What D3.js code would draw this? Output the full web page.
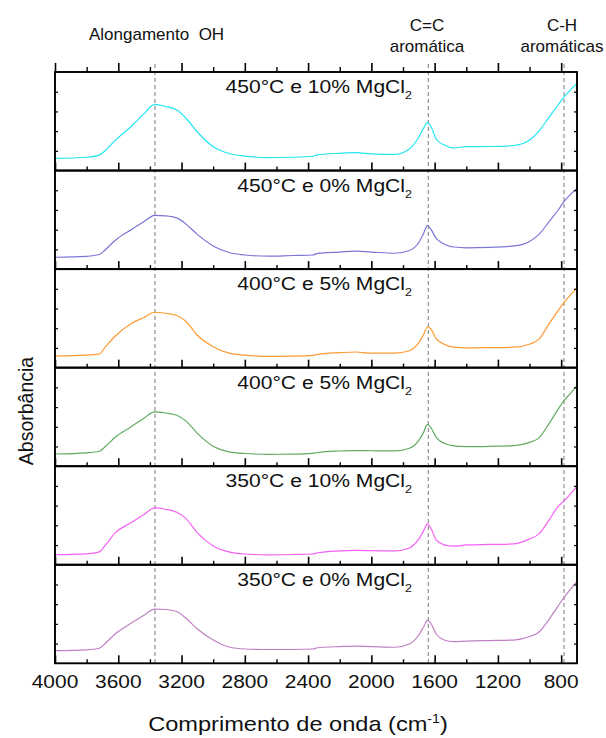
<!DOCTYPE html>
<html>
<head>
<meta charset="utf-8">
<script src="https://cdn.jsdelivr.net/npm/d3@7"></script>
<style>
  body { margin: 0; background: #fff; }
  text { font-family: "Liberation Sans", Arial, sans-serif; fill: #111; }
</style>
</head>
<body>
<svg id="chart" width="606" height="738"></svg>
<script>
// FTIR spectra, wavenumber grid (cm-1), shared by all samples
const wavenumbers = [4000, 3800, 3720, 3680, 3620, 3520, 3440, 3370, 3300, 3230, 3170, 3100, 3000, 2900, 2800,
  2650, 2500, 2370, 2340, 2200, 2100, 2000, 1850, 1760, 1700, 1670, 1645, 1625, 1590, 1540, 1480,
  1400, 1250, 1100, 1000, 940, 880, 820, 780, 740, 700];

// Normalised absorbance of each sample (0..1 within its own panel)
const abs450_10 = [0.124, 0.135, 0.157, 0.206, 0.306, 0.445, 0.572, 0.672, 0.650, 0.614, 0.528, 0.391, 0.242, 0.173, 0.147,
  0.132, 0.135, 0.145, 0.160, 0.175, 0.181, 0.170, 0.164, 0.218, 0.340, 0.431, 0.487, 0.452, 0.320, 0.259, 0.231,
  0.242, 0.244, 0.254, 0.310, 0.401, 0.533, 0.665, 0.749, 0.822, 0.885];
const abs450_0 = [0.120, 0.130, 0.148, 0.199, 0.291, 0.398, 0.480, 0.546, 0.541, 0.520, 0.454, 0.352, 0.235, 0.168, 0.143,
  0.131, 0.138, 0.143, 0.160, 0.173, 0.182, 0.173, 0.161, 0.189, 0.270, 0.362, 0.444, 0.408, 0.311, 0.255, 0.224,
  0.216, 0.221, 0.235, 0.281, 0.352, 0.474, 0.597, 0.689, 0.760, 0.821];
const abs400_5a = [0.119, 0.127, 0.140, 0.213, 0.319, 0.446, 0.507, 0.562, 0.552, 0.529, 0.466, 0.329, 0.213, 0.147, 0.127,
  0.114, 0.117, 0.125, 0.135, 0.152, 0.159, 0.147, 0.147, 0.172, 0.253, 0.334, 0.415, 0.395, 0.294, 0.238, 0.208,
  0.200, 0.203, 0.208, 0.238, 0.289, 0.436, 0.578, 0.666, 0.740, 0.811];
const abs400_5b = [0.124, 0.136, 0.152, 0.202, 0.293, 0.399, 0.485, 0.551, 0.540, 0.517, 0.455, 0.333, 0.202, 0.146, 0.129,
  0.121, 0.123, 0.131, 0.139, 0.154, 0.159, 0.157, 0.155, 0.182, 0.263, 0.343, 0.424, 0.394, 0.293, 0.232, 0.207,
  0.199, 0.202, 0.209, 0.242, 0.288, 0.424, 0.576, 0.670, 0.742, 0.818];
const abs350_10 = [0.102, 0.111, 0.130, 0.201, 0.323, 0.426, 0.507, 0.577, 0.563, 0.533, 0.466, 0.323, 0.191, 0.130, 0.109,
  0.101, 0.104, 0.109, 0.122, 0.140, 0.145, 0.143, 0.140, 0.170, 0.262, 0.344, 0.415, 0.374, 0.252, 0.201, 0.188,
  0.201, 0.206, 0.211, 0.262, 0.313, 0.446, 0.589, 0.650, 0.721, 0.793];
const abs350_0 = [0.128, 0.137, 0.153, 0.206, 0.297, 0.406, 0.485, 0.549, 0.546, 0.525, 0.454, 0.348, 0.236, 0.165, 0.145,
  0.140, 0.140, 0.145, 0.158, 0.170, 0.175, 0.170, 0.163, 0.196, 0.287, 0.368, 0.439, 0.409, 0.297, 0.236, 0.219,
  0.226, 0.231, 0.236, 0.272, 0.317, 0.439, 0.581, 0.672, 0.753, 0.830];

// Panel order, top to bottom
const sampleSeries = [abs450_10, abs450_0, abs400_5a, abs400_5b, abs350_10, abs350_0];
const sampleLabels = ["450°C e 10% MgCl", "450°C e 0% MgCl", "400°C e 5% MgCl",
                      "400°C e 5% MgCl", "350°C e 10% MgCl", "350°C e 0% MgCl"];
const sampleColors = ["#22e6f0", "#7a76d6", "#ff9a33", "#62ab62", "#f561f5", "#bf80c3"];

// Tick values
const majorTicks = [4000, 3600, 3200, 2800, 2400, 2000, 1600, 1200, 800];
const minorTicks = [3800, 3400, 3000, 2600, 2200, 1800, 1400, 1000];
const yTicks = [0.2, 0.4, 0.6, 0.8];

// Band assignments marked with dashed guides
const bandPositions = [3368, 1640, 782];

const svg = d3.select("#chart");
const plotLeft = 55, plotRight = 577, plotTop = 72, plotBottom = 663.3;
const nPanels = sampleSeries.length;
const panelH = (plotBottom - plotTop) / nPanels;

const x = d3.scaleLinear().domain([4000, 700]).range([plotLeft, plotRight]);
const y = d3.scaleLinear().domain([0, 1]).range([panelH, 0]);

const line = d3.line()
  .x((d, i) => x(wavenumbers[i]))
  .y(d => y(d))
  .curve(d3.curveMonotoneX);

// Dashed guides through all panels
svg.append("g").selectAll("line").data(bandPositions).join("line")
  .attr("x1", d => x(d)).attr("x2", d => x(d))
  .attr("y1", plotTop - 8).attr("y2", plotBottom)
  .attr("stroke", "#7a7a7a").attr("stroke-width", 1)
  .attr("stroke-dasharray", "4,3");

sampleSeries.forEach((vals, i) => {
  const g = svg.append("g").attr("transform", `translate(0,${plotTop + i * panelH})`);

  g.append("path").datum(vals)
    .attr("d", line)
    .attr("fill", "none")
    .attr("stroke", sampleColors[i])
    .attr("stroke-width", 1.2);

  // bottom ticks (pointing inward)
  g.append("g").attr("transform", `translate(0,${panelH})`)
    .call(d3.axisBottom(x).tickValues(majorTicks).tickSize(-8).tickFormat(""))
    .call(a => a.select(".domain").remove())
    .call(a => a.selectAll("line").attr("stroke", "#000").attr("stroke-width", 1.6));
  g.append("g").attr("transform", `translate(0,${panelH})`)
    .call(d3.axisBottom(x).tickValues(minorTicks).tickSize(-4).tickFormat(""))
    .call(a => a.select(".domain").remove())
    .call(a => a.selectAll("line").attr("stroke", "#000").attr("stroke-width", 1.4));

  // small unlabelled ticks on the side spines
  g.append("g").attr("transform", `translate(${plotLeft},0)`)
    .call(d3.axisLeft(y).tickValues(yTicks).tickSize(-3).tickFormat(""))
    .call(a => a.select(".domain").remove())
    .call(a => a.selectAll("line").attr("stroke", "#000").attr("stroke-width", 1.2));
  g.append("g").attr("transform", `translate(${plotRight},0)`)
    .call(d3.axisRight(y).tickValues(yTicks).tickSize(-3).tickFormat(""))
    .call(a => a.select(".domain").remove())
    .call(a => a.selectAll("line").attr("stroke", "#000").attr("stroke-width", 1.2));

  // frame
  g.append("rect")
    .attr("x", plotLeft).attr("y", 0)
    .attr("width", plotRight - plotLeft).attr("height", panelH)
    .attr("fill", "none").attr("stroke", "#000").attr("stroke-width", 1.9);

  // sample label with subscript
  const t = g.append("text")
    .attr("transform", `translate(412,21) scale(1.14,1)`)
    .attr("text-anchor", "end")
    .style("font-size", "18.5px");
  t.append("tspan").text(sampleLabels[i]);
  t.append("tspan").attr("dy", 6).style("font-size", "11px").text("2");
});

// top ticks on the first panel (pointing outward)
svg.append("g").attr("transform", `translate(0,${plotTop})`)
  .call(d3.axisTop(x).tickValues(majorTicks).tickSize(9).tickFormat(""))
  .call(a => a.select(".domain").remove())
  .call(a => a.selectAll("line").attr("stroke", "#000").attr("stroke-width", 1.6));
svg.append("g").attr("transform", `translate(0,${plotTop})`)
  .call(d3.axisTop(x).tickValues(minorTicks).tickSize(5).tickFormat(""))
  .call(a => a.select(".domain").remove())
  .call(a => a.selectAll("line").attr("stroke", "#000").attr("stroke-width", 1.4));

// x tick labels
svg.append("g").selectAll("text").data(majorTicks).join("text")
  .attr("transform", d => `translate(${x(d)},688) scale(1.15,1)`)
  .attr("text-anchor", "middle")
  .style("font-size", "18.2px")
  .text(d => d);

// x axis title
const xt = svg.append("text")
  .attr("transform", "translate(298,731) scale(1.18,1)")
  .attr("text-anchor", "middle")
  .style("font-size", "20px");
xt.append("tspan").text("Comprimento de onda (cm");
xt.append("tspan").attr("dy", -8).style("font-size", "12px").text("-1");
xt.append("tspan").attr("dy", 8).text(")");

// y axis title
svg.append("text")
  .attr("transform", "translate(33,411) rotate(-90)")
  .attr("text-anchor", "middle")
  .style("font-size", "19.5px")
  .text("Absorbância");

// band annotations above the plot
const notes = svg.append("g").style("font-size", "17px");
notes.append("text").attr("x", 89).attr("y", 40).style("white-space", "pre")
  .attr("xml:space", "preserve").text("Alongamento  OH");
notes.append("text").attr("x", 427).attr("y", 31).attr("text-anchor", "middle").text("C=C");
notes.append("text").attr("x", 427).attr("y", 51.5).attr("text-anchor", "middle").text("aromática");
notes.append("text").attr("x", 562).attr("y", 31).attr("text-anchor", "middle").text("C-H");
notes.append("text").attr("x", 562).attr("y", 51.5).attr("text-anchor", "middle").text("aromáticas");
</script>
</body>
</html>
